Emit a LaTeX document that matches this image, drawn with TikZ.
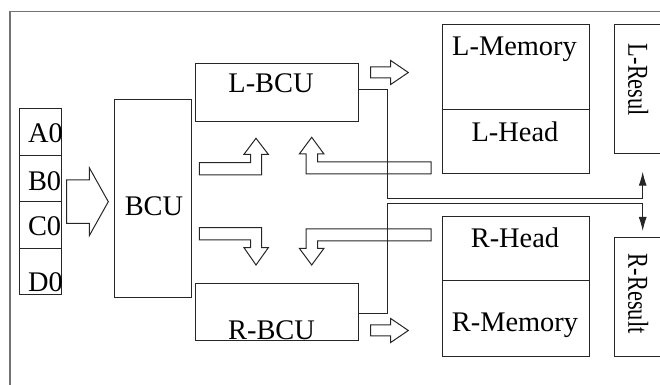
\documentclass[tikz,border=0pt]{standalone}
\usepackage{fontspec}
\setmainfont{Liberation Serif}
\usepackage{tikz}
\usetikzlibrary{arrows.meta,positioning,calc}

\begin{document}
\begin{tikzpicture}[x=0.5pt, y=-0.5pt, line width=0.5pt,
  blk/.style 2 args={draw=black!85, inner sep=0pt, anchor=north west, minimum width=#1*0.5pt, minimum height=#2*0.5pt},
  txt/.style={anchor=base, inner sep=0pt, font=\fontsize{14.2}{16}\selectfont},
  vtxt/.style={inner sep=0pt, anchor=base west, rotate=-90, font=\fontsize{14.4}{16}\selectfont},
  hollow/.style={draw=black!85, line join=miter},
  conn/.style={draw=black!85, -{Latex[length=7pt,width=4pt]}}]
\useasboundingbox (0,0) rectangle (660,385);
\clip (0,0) rectangle (660,385);
\draw[black!55, line width=0.6pt] (10,11.7) rectangle (700,420);
\foreach \n/\y/\b in {A0/108.3/142.7, B0/154.8/190.7, C0/201.3/236, D0/247.8/291.7} {
  \node[blk={41.4}{46.5}] (\n) at (19.3,\y) {};
  \node[txt, anchor=base west] (t\n) at (27.5,\b) {\n};
}
\node[blk={76.7}{198.6}] (bcu) at (114.3,98.7) {};
\node[txt] (tbcu) at (154,216) {BCU};
\node[blk={163.3}{57.4}] (lbcu) at (195,63.3) {};
\node[txt] (tlbcu) at (271,93) {L-BCU};
\node[blk={163.3}{57.3}] (rbcu) at (195,282.7) {};
\node[txt] (trbcu) at (271.5,340) {R-BCU};
\node[blk={147.6}{85}] (lmem) at (441.7,24.3) {};
\node[txt] (tlmem) at (514.5,55.7) {L-Memory};
\node[blk={147.6}{64}] (lhead) at (441.7,109.3) {};
\node[txt] (tlhead) at (515,141.7) {L-Head};
\node[blk={147.6}{64}] (rhead) at (441.7,216) {};
\node[txt] (trhead) at (515,248) {R-Head};
\node[blk={147.6}{76}] (rmem) at (441.7,280) {};
\node[txt] (trmem) at (515,332) {R-Memory};
\node[blk={60}{128.4}] (lres) at (614,24.3) {};
\node[vtxt] (tlres) at (628.3,43.3) {\scalebox{0.78}[1]{L-Resul}};
\node[blk={60}{118.7}] (rres) at (614,237.3) {};
\node[vtxt] (trres) at (628.3,253.3) {\scalebox{0.78}[1]{R-Result}};
% block arrows
\draw[hollow] (66.7,180) -- (89.3,180) -- (89.3,167.7) -- (108.3,201.7) -- (89.3,235.7) -- (89.3,223.3) -- (66.7,223.3) -- cycle;
\foreach \c in {72.5,330.5} {
  \draw[hollow] (370.7,\c-5.5) -- (390.7,\c-5.5) -- (390.7,\c-12) -- (408.3,\c) -- (390.7,\c+12) -- (390.7,\c+5.5) -- (370.7,\c+5.5) -- cycle;
}
\draw[hollow] (199.3,162.7) -- (250.7,162.7) -- (250.7,154.3) -- (244,154.3) -- (256,138.3) -- (268.3,154.3) -- (261.7,154.3) -- (261.7,175) -- (199.3,175) -- cycle;
\draw[hollow] (199.3,227.7) -- (261.7,227.7) -- (261.7,247.7) -- (268.3,247.7) -- (256,265) -- (244,247.7) -- (250.7,247.7) -- (250.7,240) -- (199.3,240) -- cycle;
\draw[hollow] (431,162) -- (317.7,162) -- (317.7,154) -- (324,154) -- (311.7,137.3) -- (299.3,154) -- (306,154) -- (306,174) -- (431,174) -- cycle;
\draw[hollow] (431,241) -- (317.7,241) -- (317.7,248.3) -- (324,248.3) -- (311.7,265) -- (299.3,248.3) -- (306,248.3) -- (306,229) -- (431,229) -- cycle;
% results
\coordinate (lup) at (642.7,171.7);
\coordinate (rdown) at (642.7,231);
\draw[conn] ([yshift=1.35pt]lbcu.east) -| (387,198.3) -| (lup);
\draw[conn] ([yshift=-1pt]rbcu.east) -| (387,204) -| (rdown);
\end{tikzpicture}
\end{document}
